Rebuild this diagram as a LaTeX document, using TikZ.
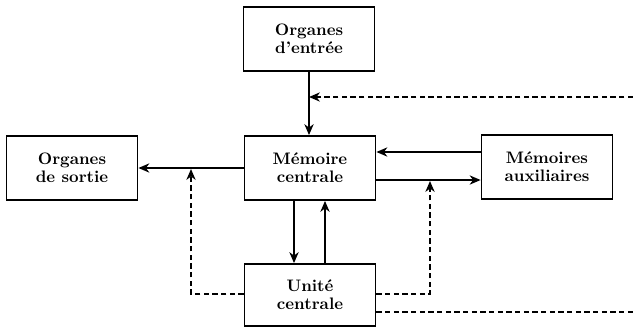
\documentclass[tikz,border=0pt]{standalone}
\usepackage{tikz}
\usetikzlibrary{arrows.meta,positioning,calc}

\begin{document}
\begin{tikzpicture}[x=0.6pt,y=-0.6pt,
		bloc/.style={draw,line width=1.1pt,minimum width=78.6pt,minimum height=38.4pt,
			align=center,inner sep=0pt,font=\bfseries\fontsize{10}{10.8}\selectfont},
		fleche/.style={line width=1.1pt,-{Stealth[length=6.5pt,width=5.5pt,inset=2pt]}},
		pointille/.style={line width=1.1pt,dash pattern=on 3.2pt off 2pt}]
		\useasboundingbox (0,0) rectangle (633,327);
		\node[bloc]	(entree)	at	(309,39)	{Organes\\d'entrée};
		\node[bloc]	(memoire)	at	(310,168)	{Mémoire\\centrale};
		\node[bloc]	(sortie)	at	(72,168)	{Organes\\de sortie};
		\node[bloc]	(aux)		at	(547,167)	{Mémoires\\auxiliaires};
		\node[bloc,minimum height=37.2pt]	(unite)	at	(310,295)	{Unité\\centrale};
		
		\coordinate	(cmd)		at	(309,97);
		\coordinate	(cmdbord)	at	(633,97);
		\coordinate	(basbord)	at	(633,312);
		
		\draw[fleche] (entree.south) -- (entree.south |- memoire.north);
		\draw[fleche] (memoire.west) -- (sortie.east);
		\draw[fleche] (aux.west |- 0,152) -- (memoire.east |- 0,152);
		\draw[fleche] (memoire.east |- 0,180) -- (aux.west |- 0,180);
		\draw[fleche] (memoire.south -| 294,0) -- (unite.north -| 294,0);
		\draw[fleche] (unite.north -| 325,0) -- (memoire.south -| 325,0);
		
		\draw[pointille,-{Stealth[length=6.5pt,width=5.5pt,inset=2pt]}] (cmdbord) -- (cmd);
		\draw[pointille,-{Stealth[length=6.5pt,width=5.5pt,inset=2pt]}] (unite.west |- 0,294) -| (191,169);
		\draw[pointille,-{Stealth[length=6.5pt,width=5.5pt,inset=2pt]}] (unite.east |- 0,294) -| (430,181);
		\draw[pointille] (unite.east |- 0,312) -- (basbord);
	\end{tikzpicture}
\end{document}
